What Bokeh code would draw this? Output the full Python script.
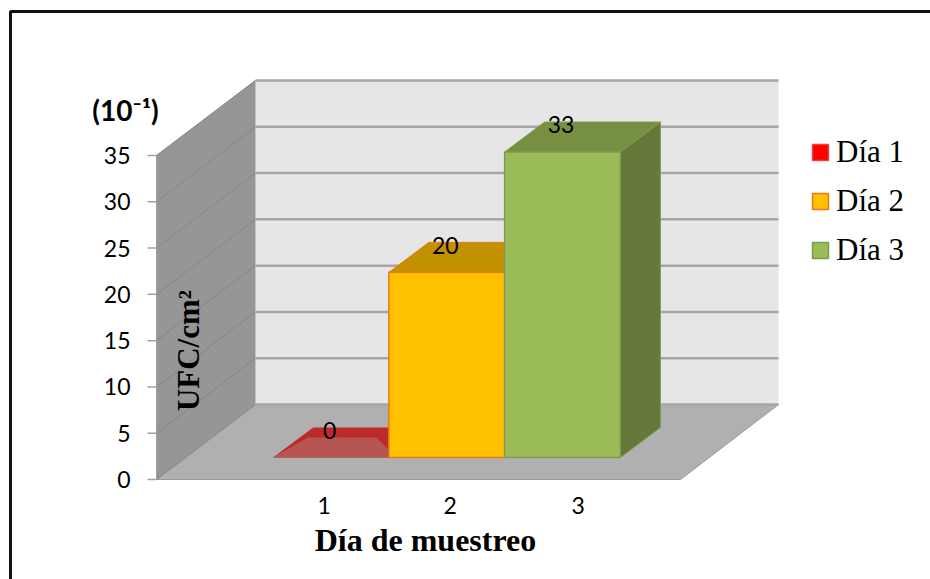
from bokeh.core.properties import value
from bokeh.embed import file_html
from bokeh.models import Legend, LegendItem, Range1d
from bokeh.plotting import figure
from bokeh.resources import INLINE

# Chart data
categories = ["1", "2", "3"]
series_names = ["Día 1", "Día 2", "Día 3"]
values = [0, 20, 33]
bar_positions = [1, 2, 3]
label_positions = [0.94, 2.03, 3.135]
y_ticks = [0, 5, 10, 15, 20, 25, 30, 35]

# Colours: front face, edge, top face, side face
front_colors = ["#b75555", "#ffc000", "#9bbb59"]
edge_colors = ["#c0272a", "#e8791a", "#7f9a50"]
top_colors = ["#bd2a2a", "#c29100", "#778f43"]
side_colors = ["#bd2a2a", "#a07f00", "#66773a"]
legend_fill = ["#ff0000", "#ffc000", "#9bbb59"]
legend_line = ["#e04848", "#e8791a", "#7f9a50"]

# Scale factors between data units and the page
X_PER_CAT, Y_PER_UNIT = 115.75, 9.257


def cx(px):
    return 1 + (px - 330.5) / X_PER_CAT


def vy(py):
    return (479 - py) / Y_PER_UNIT


# Oblique projection of the box, in data units
ROOM_DX, ROOM_DY = 99 / X_PER_CAT, 75 / Y_PER_UNIT
BAR_DX, BAR_DY = 40 / X_PER_CAT, 30 / Y_PER_UNIT
BASE_DY = 22 / Y_PER_UNIT
BAR_HALF = 0.5
X0 = cx(156)
X1 = cx(778)
FRONT_RIGHT = cx(680)
TOP = y_ticks[-1]

p = figure(width=930, height=579, output_backend="svg", toolbar_location=None,
           x_range=Range1d(cx(0), cx(930)), y_range=Range1d(vy(579), vy(0)),
           x_axis_type=None, y_axis_type=None, min_border=0, outline_line_color=None,
           background_fill_color="white", border_fill_color="white")
p.xgrid.visible = False
p.ygrid.visible = False

# Chart border: top and left edges only
p.line([cx(10), cx(10), cx(930)], [vy(579), vy(11), vy(11)], line_color="#111111", line_width=3)

# Room: side wall, back wall, floor
p.patch([X0, X0 + ROOM_DX, X0 + ROOM_DX, X0], [0, ROOM_DY, TOP + ROOM_DY, TOP],
        fill_color="#969696", line_color="#a0a0a0", line_width=1)
p.patch([X0 + ROOM_DX, X1, X1, X0 + ROOM_DX], [ROOM_DY, ROOM_DY, TOP + ROOM_DY, TOP + ROOM_DY],
        fill_color="#e6e6e6", line_color=None)
p.patch([X0, FRONT_RIGHT, X1, X0 + ROOM_DX], [0, 0, ROOM_DY, ROOM_DY],
        fill_color="#b0b0b0", line_color="#9a9a9a", line_width=1)

# Grid lines across both walls, and the tick marks on the value axis
for t in y_ticks:
    p.line([X0, X0 + ROOM_DX], [t, t + ROOM_DY], line_color="#878787", line_width=1)
    p.line([X0 + ROOM_DX, X1], [t + ROOM_DY, t + ROOM_DY], line_color="#a6a6a6", line_width=2.5)
    p.line([cx(147), X0], [t, t], line_color="#a0a0a0", line_width=1.5)

# Bars: side and top faces first, then the front face
legend_items = []
for i, (pos, val) in enumerate(zip(bar_positions, values)):
    l, r = pos - BAR_HALF, pos + BAR_HALF
    b, t = BASE_DY, BASE_DY + val
    if val > 0:
        p.patch([r, r + BAR_DX, r + BAR_DX, r], [b, b + BAR_DY, t + BAR_DY, t],
                fill_color=side_colors[i], line_color=edge_colors[i], line_width=1)
    if val == 0:
        # A bar of zero height shows only its top face, ending at the next bar
        p.patch([l, l + BAR_DX, r, r], [t, t + BAR_DY, t + BAR_DY, t],
                fill_color=top_colors[i], line_color=None)
        p.patch([l, l + 0.3, r - 0.11, r, r], [t, t + 2.15, t + 2.15, t + 0.8, t],
                fill_color=front_colors[i], line_color=None)
    else:
        p.patch([l, l + BAR_DX, r + BAR_DX, r], [t, t + BAR_DY, t + BAR_DY, t],
                fill_color=top_colors[i], line_color=edge_colors[i], line_width=1)
        p.quad(left=[l], right=[r], bottom=[b], top=[t], fill_color=front_colors[i],
               line_color=edge_colors[i], line_width=1.5)
    # Zero-size quad that supplies the solid swatch of the legend
    swatch = p.quad(left=[l], right=[l], bottom=[b], top=[b], fill_color=legend_fill[i],
                    line_color=legend_line[i], line_width=1.5)
    legend_items.append(LegendItem(label=series_names[i], renderers=[swatch]))

LATO = value("Lato")
SERIF = value("Liberation Serif")

# Value labels on the tops of the bars
p.text([pos - 0.012 for pos in bar_positions], [BASE_DY + v + 2.95 for v in values],
       text=[str(v) for v in values], text_font=LATO, text_font_size="23px",
       text_color="#000000", text_align="center", text_baseline="middle")

# Value axis labels
p.text([cx(130)] * len(y_ticks), y_ticks, text=[str(t) for t in y_ticks], text_font=LATO,
       text_font_size="23px", text_color="#000000", text_align="right", text_baseline="middle")

# Category labels
p.text(label_positions, [vy(505)] * 3, text=categories, text_font=LATO, text_font_size="23px",
       text_color="#000000", text_align="center", text_baseline="middle")

# Titles
p.text([cx(425)], [vy(539)], text=["Día de muestreo"], text_font=SERIF, text_font_style="bold",
       text_font_size="32px", text_color="#000000", text_align="center", text_baseline="middle")
p.text([cx(188)], [vy(350)], text=["UFC/cm²"], angle=90, angle_units="deg", text_font=SERIF,
       text_font_style="bold", text_font_size="31px", text_color="#000000", text_align="center",
       text_baseline="middle")
p.text([cx(125)], [vy(109)], text=["(10⁻¹)"], text_font=LATO, text_font_style="bold",
       text_font_size="28px", text_color="#000000", text_align="center", text_baseline="middle")

legend = Legend(items=legend_items, location=(810, 311), glyph_width=20, glyph_height=20,
                label_standoff=6, spacing=13, padding=0, margin=0, border_line_color=None,
                background_fill_alpha=0, label_text_font="Liberation Serif",
                label_text_font_size="31px", label_text_color="#000000")
p.add_layout(legend, "center")

open("out.html", "w").write(file_html(p, INLINE))
